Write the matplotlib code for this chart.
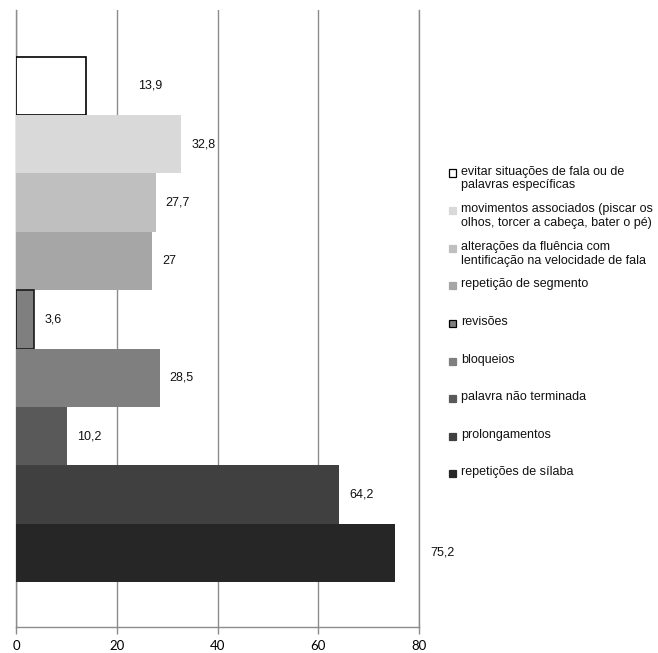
import matplotlib.pyplot as plt
from matplotlib.patches import Rectangle

# categorias (de cima para baixo, como na legenda)
categorias = [
    "evitar situações de fala ou de\npalavras específicas",
    "movimentos associados (piscar os\nolhos, torcer a cabeça, bater o pé)",
    "alterações da fluência com\nlentificação na velocidade de fala",
    "repetição de segmento",
    "revisões",
    "bloqueios",
    "palavra não terminada",
    "prolongamentos",
    "repetições de sílaba",
]
valores = [13.9, 32.8, 27.7, 27.0, 3.6, 28.5, 10.2, 64.2, 75.2]
rotulos = ["13,9", "32,8", "27,7", "27", "3,6", "28,5", "10,2", "64,2", "75,2"]
xticks = [0, 20, 40, 60, 80]

cores = ["#ffffff", "#d9d9d9", "#bfbfbf", "#a6a6a6", "#7f7f7f",
         "#7f7f7f", "#595959", "#404040", "#262626"]
bordas = ["#000000", None, None, None, "#1a1a1a", None, None, None, None]
# deslocamento extra (px) de alguns rótulos
extra = {0: 42, 8: 26}

plt.rcParams["font.family"] = ["Liberation Sans", "DejaVu Sans"]

fig = plt.figure(figsize=(6.58, 6.53), dpi=100)
ax = fig.add_axes([16 / 658, 26 / 653, 403 / 658, 617 / 653])

n = len(categorias)
for i, (v, c, b) in enumerate(zip(valores, cores, bordas)):
    y = n - 1 - i
    ax.barh(y, v, height=1.0, color=c,
            edgecolor=b if b else c,
            linewidth=1.2 if b else 0, zorder=3)
    ax.annotate(rotulos[i], (v, y), xytext=(10 + extra.get(i, 0), 0),
                textcoords="offset pixels", va="center", ha="left",
                fontsize=9, color="#111111", zorder=4)

ax.set_xlim(0, 80)
ax.set_ylim(-0.5 - 0.77, n - 0.5 + 0.8)
ax.set_xticks(xticks)
ax.set_xticklabels([str(t) for t in xticks], family=["Lato", "DejaVu Sans"],
                   fontsize=9.5)
ax.set_yticks([])
ax.grid(axis="x", color="#8c8c8c", linewidth=1.0, zorder=0)
ax.tick_params(axis="x", length=5, width=1.0, color="#8c8c8c", pad=4)
ax.spines["top"].set_visible(False)
for s in ["left", "bottom", "right"]:
    ax.spines[s].set_color("#8c8c8c")
    ax.spines[s].set_linewidth(1.0)

# legenda montada à mão, com o quadrado alinhado à primeira linha
W, H = 658, 653
y0 = 173
dy = 37.6
for i, lab in enumerate(categorias):
    yc = y0 + i * dy
    ec = "#000000" if bordas[i] else cores[i]
    fig.patches.append(Rectangle((449 / W, (H - yc - 3.5) / H), 7 / W, 7 / H,
                                 transform=fig.transFigure, facecolor=cores[i],
                                 edgecolor=ec, linewidth=0.9))
    fig.text(461 / W, (H - yc + 7.5) / H, lab, ha="left", va="top",
             fontsize=9, color="#111111", linespacing=1.2)

fig.savefig("out.png", dpi=100)
